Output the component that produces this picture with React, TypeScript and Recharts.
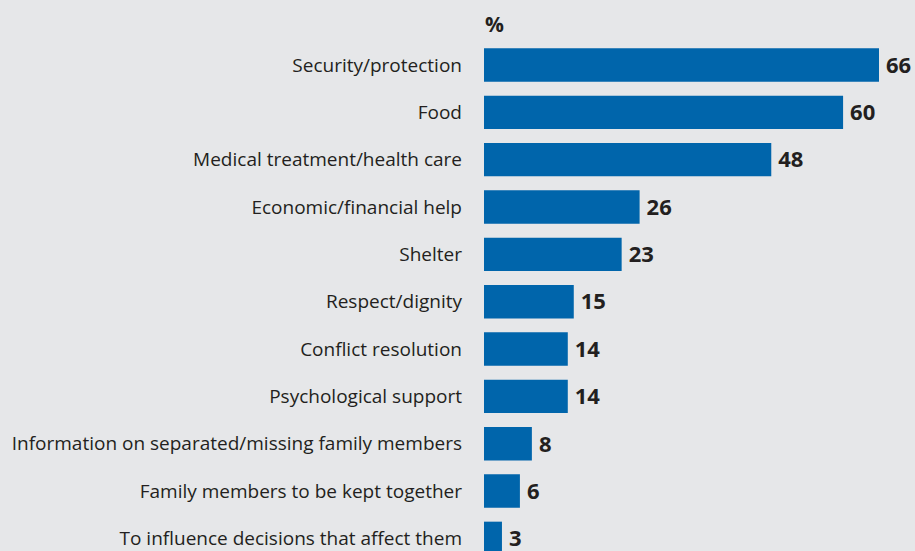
import { BarChart, Bar, XAxis, YAxis, LabelList } from 'recharts';

const categories = [
  'Security/protection',
  'Food',
  'Medical treatment/health care',
  'Economic/financial help',
  'Shelter',
  'Respect/dignity',
  'Conflict resolution',
  'Psychological support',
  'Information on separated/missing family members',
  'Family members to be kept together',
  'To influence decisions that affect them',
];
const values = [66, 60, 48, 26, 23, 15, 14, 14, 8, 6, 3];

const data = categories.map((name, i) => ({ name, value: values[i] }));

const BG = '#e6e7e9';
const BAR = '#0065ab';
const TEXT = '#231f20';

export default function App() {
  return (
    <div style={{ position: 'fixed', top: 0, left: 0, width: 915, height: 551, overflow: 'hidden', background: BG }}>
      <div style={{ position: 'absolute', left: 485, top: 10, fontFamily: 'Open Sans', fontWeight: 700, fontSize: 21, color: TEXT }}>%</div>
      <BarChart
        width={915}
        height={562}
        data={data}
        layout="vertical"
        margin={{ top: 41.3, right: 36, bottom: 0, left: 0 }}
      >
        <XAxis type="number" domain={[0, 66]} hide />
        <YAxis
          type="category"
          dataKey="name"
          width={484}
          axisLine={false}
          tickLine={false}
          tickSize={0}
          tickMargin={22}
          interval={0}
          tick={{ fontFamily: 'Open Sans', fontSize: 19, fill: TEXT }}
        />
        <Bar dataKey="value" fill={BAR} barSize={33.4} isAnimationActive={false}>
          <LabelList
            dataKey="value"
            position="right"
            offset={7}
            style={{ fontFamily: 'Open Sans', fontWeight: 700, fontSize: 22, fill: TEXT }}
          />
        </Bar>
      </BarChart>
    </div>
  );
}
